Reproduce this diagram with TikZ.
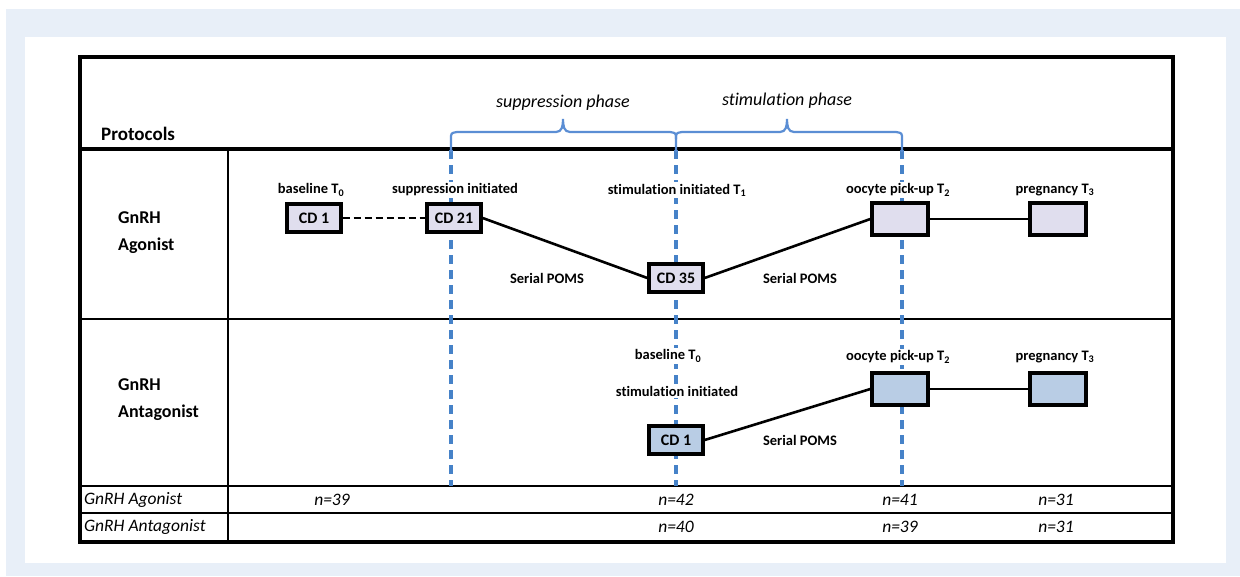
\documentclass[tikz,border=0pt]{standalone}
\usepackage{fontspec}
\setmainfont{Carlito}[Ligatures={NoCommon,NoRare,NoContextual}]
\definecolor{bgband}{HTML}{E8EFF8}
\definecolor{agofill}{HTML}{E0DEEE}
\definecolor{antfill}{HTML}{B9CDE5}
\definecolor{guideblue}{HTML}{4682C8}
\definecolor{braceblue}{HTML}{5B8ED4}
\tikzset{
  lbl/.style={font=\fontsize{14.5}{16}\selectfont\bfseries, fill=white, inner sep=2pt},
  plainlbl/.style={font=\fontsize{14.5}{16}\selectfont\bfseries, inner sep=0pt},
  rowhead/.style={font=\fontsize{18}{27}\selectfont\bfseries, align=left, anchor=west, inner sep=0pt},
  ntext/.style={font=\fontsize{17.5}{19}\selectfont\itshape, inner sep=0pt},
  phase/.style={font=\fontsize{18}{20}\selectfont\itshape, inner sep=0pt},
  cdbox/.style={draw, line width=3.3pt, minimum width=54pt, minimum height=28pt, inner sep=0pt, font=\fontsize{16}{18}\selectfont\bfseries},
  agobox/.style={cdbox, fill=agofill},
  antbox/.style={cdbox, fill=antfill},
  emptybox/.style={minimum width=56pt, minimum height=32pt},
  guide/.style={draw=guideblue, line width=3.2pt, dash pattern=on 9pt off 6pt},
  bracepath/.style={draw=braceblue, line width=2.2pt},
  link/.style={draw, line width=2.6pt},
  thickrule/.style={line width=3.6pt},
  thinrule/.style={line width=2pt}
}
\begin{document}
\begin{tikzpicture}[x=1pt,y=-1pt]
\useasboundingbox (0,0) rectangle (1240,576);
\fill[bgband] (6,9) rectangle (1240,576);
\fill[white] (25,37) rectangle (1226,563);

% table rules
\draw[thinrule] (228,149) -- (228,542);
\draw[thinrule] (80,319) -- (1173,319);
\draw[thinrule] (80,486) -- (1173,486);
\draw[thinrule] (80,513) -- (1173,513);
\draw[thickrule] (80,149) -- (1173,149);
\draw[thickrule] (80,57) rectangle (1173,542);

% guide coordinates
\coordinate (g1t) at (451,150); \coordinate (g1b) at (451,486);
\coordinate (g2t) at (676,150); \coordinate (g2b) at (676,486);
\coordinate (g3t) at (902,150); \coordinate (g3b) at (902,486);
\path[guide] (g1t) -- (g1b);
\path[guide] (g2t) -- (g2b);
\path[guide] (g3t) -- (g3b);

% braces
\path[bracepath] (451,152) -- (451,139) .. controls (451,133) .. (457,132) -- (556,132)
  .. controls (562,132) and (563,126) .. (563,119)
  .. controls (563,126) and (564,132) .. (570,132) -- (670,132)
  .. controls (676,133) .. (676,139) -- (676,152);
\path[bracepath] (676,139) .. controls (676,133) .. (682,132) -- (780,132)
  .. controls (786,132) and (787,126) .. (787,119)
  .. controls (787,126) and (788,132) .. (794,132) -- (896,132)
  .. controls (902,133) .. (902,139) -- (902,152);

\node[phase] (supp) at (563,103) {suppression phase};
\node[phase] (stim) at (787,101) {stimulation phase};

% headings
\node[font=\fontsize{19}{21}\selectfont\bfseries, anchor=base west, inner sep=0pt] (proto) at (101,140) {Protocols};
\node[rowhead] (agoh) at (118,233) {GnRH\\Agonist};
\node[rowhead] (anth) at (118,400) {GnRH\\Antagonist};

% agonist row labels
\node[lbl] (l1) at (311,190) {baseline T\textsubscript{0}};
\node[lbl] (l2) at (455,190) {suppression initiated};
\node[lbl] (l3) at (677,190) {stimulation initiated T\textsubscript{1}};
\node[lbl] (l4) at (898,190) {oocyte pick-up T\textsubscript{2}};
\node[lbl] (l5) at (1055,190) {pregnancy T\textsubscript{3}};
\node[plainlbl] (s1) at (547,278) {Serial POMS};
\node[plainlbl] (s2) at (800,278) {Serial POMS};

% agonist row boxes
\node[agobox] (a1) at (314,218) {CD 1};
\node[agobox] (a2) at (454,218) {CD 21};
\node[agobox] (a3) at (676,278) {CD 35};
\node[agobox, emptybox] (a4) at (900,219) {};
\node[agobox, emptybox] (a5) at (1058,219) {};
\draw[link, dash pattern=on 7pt off 4pt] (a1.east) -- (a2.west);
\draw[link] (a2.east) -- (a3.west);
\draw[link] (a3.east) -- (a4.west);
\draw[link] (a4.east) -- (a5.west);

% antagonist row
\node[lbl] (m1) at (668,356) {baseline T\textsubscript{0}};
\node[lbl] (m2) at (677,391) {stimulation initiated};
\node[lbl] (m3) at (898,357) {oocyte pick-up T\textsubscript{2}};
\node[lbl] (m4) at (1055,357) {pregnancy T\textsubscript{3}};
\node[plainlbl] (s3) at (800,440) {Serial POMS};

\node[antbox] (b1) at (676,440) {CD 1};
\node[antbox, emptybox] (b2) at (900,389) {};
\node[antbox, emptybox] (b3) at (1058,389) {};
\draw[link] (b1.east) -- (b2.west);
\draw[link] (b2.east) -- (b3.west);

% n rows
\node[ntext, anchor=west] (r1) at (84,500) {GnRH Agonist};
\node[ntext, anchor=west] (r2) at (84,527) {GnRH Antagonist};
\node[ntext] (n11) at (332,500) {n=39};
\node[ntext] (n12) at (676,500) {n=42};
\node[ntext] (n13) at (900,500) {n=41};
\node[ntext] (n14) at (1056,500) {n=31};
\node[ntext] (n22) at (676,527) {n=40};
\node[ntext] (n23) at (900,527) {n=39};
\node[ntext] (n24) at (1056,527) {n=31};
\end{tikzpicture}
\end{document}
